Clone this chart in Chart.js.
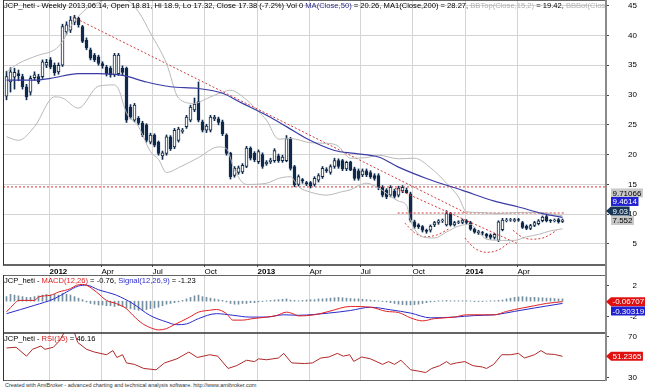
<!DOCTYPE html>
<html>
<head>
<meta charset="utf-8">
<script src="https://cdn.jsdelivr.net/npm/chart.js@4.4.0/dist/chart.umd.min.js"></script>
<style>
  body { margin: 0; background: #fff; width: 645px; height: 392px; overflow: hidden; position: relative; font-family: "Liberation Sans", Arial, sans-serif; }
  canvas { position: absolute; left: 0; }
  #main { top: 0; }
  #macd { top: 275px; }
  #rsi { top: 333px; }
  #foot { position: absolute; left: 5px; top: 382px; font-size: 5.5px; color: #333; white-space: nowrap; }
</style>
</head>
<body>
<canvas id="main" width="645" height="275"></canvas>
<canvas id="macd" width="645" height="58"></canvas>
<canvas id="rsi" width="645" height="48"></canvas>
<div id="foot">Created with AmiBroker - advanced charting and technical analysis software. http://www.amibroker.com</div>
<script>
// weekly bars, index 0 = late Oct 2011, last = mid Jun 2014
const opens = [29.8,32.2,33.0,33.6,33.1,31.4,30.5,32.9,33.1,33.1, 35.0,35.9,35.0,33.9,35.0,40.6,40.9,42.2,42.9,41.5,
  39.2,37.6,36.7,36.4,35.3,34.7,34.5,33.4,33.6,34.5, 34.5,28.0,25.8,26.1,25.3,25.0,22.1,23.3,22.1,19.8,
  20.2,23.0,21.3,22.4,23.9,24.7,25.8,27.5,28.9,25.5, 24.1,24.1,26.0,26.0,25.5,23.3,20.2,16.5,17.0,17.1,
  18.0,21.1,20.2,18.8,20.0,18.5,18.8,19.0,19.8,19.0, 19.0,22.7,18.0,15.0,15.8,15.3,15.3,15.0,15.7,16.3,
  17.5,17.0,18.0,19.0,19.0,17.6,18.8,17.6,17.3,16.6, 17.3,17.0,16.5,16.5,14.5,14.0,13.2,13.9,13.2,13.9,
  14.0,13.4,8.7,8.2,7.9,7.3,7.3,8.2,8.6,8.9, 8.2,10.1,8.2,8.6,8.6,8.9,8.6,7.5,7.1,6.9,
  6.6,6.5,6.1,5.6,7.4,8.9,9.0,8.9,9.1,8.6, 8.0,7.6,8.1,8.4,8.9,9.6,9.0,8.9,9.1,8.8];
const highs = [34.0,34.6,34.5,34.2,33.5,31.8,33.2,33.9,33.5,35.9, 36.0,36.3,35.4,35.4,41.9,42.3,43.2,43.4,43.1,41.7,
  39.6,37.9,37.0,36.7,35.6,35.0,34.8,37.0,37.0,34.9, 34.7,28.4,28.6,26.4,25.6,25.2,23.6,23.5,22.3,20.6,
  23.3,23.2,24.4,24.6,24.4,26.6,28.3,29.5,32.2,25.8, 25.1,26.6,26.6,26.3,25.8,23.5,20.4,18.0,18.1,18.5,
  21.4,21.3,20.5,20.8,20.3,19.0,19.4,21.0,20.1,19.9, 23.2,22.9,18.2,16.6,16.0,15.5,15.5,16.3,16.8,18.0,
  17.8,18.3,19.4,19.3,19.2,18.9,18.9,17.9,17.6,17.6, 17.6,17.3,16.8,16.8,14.8,14.3,14.8,14.2,14.7,14.8,
  14.4,13.7,9.0,8.4,8.1,7.5,8.2,8.8,9.1,9.2, 10.6,10.3,8.8,8.9,9.2,9.1,8.8,7.7,7.3,7.1,
  6.8,6.7,6.8,8.9,9.3,9.3,9.3,9.3,9.3,8.8, 8.2,8.3,8.8,9.1,9.7,9.8,9.1,9.2,9.3,9.2];
const lows = [29.2,30.5,31.0,32.4,31.0,29.2,30.0,32.5,31.9,32.8, 34.6,34.4,33.3,33.5,34.8,40.2,40.5,41.8,41.4,38.8,
  37.6,35.9,35.6,35.0,34.5,33.2,33.0,33.1,33.3,33.3, 25.4,26.0,25.5,25.0,23.0,22.1,21.8,21.3,19.9,19.2,
  19.9,20.7,21.0,22.1,23.6,24.4,25.5,27.2,25.5,23.8, 23.7,23.8,25.7,25.0,23.2,19.9,15.9,16.2,16.7,16.8,
  17.8,19.1,18.8,18.5,17.7,18.2,18.5,18.7,18.7,18.7, 18.8,17.4,14.6,14.7,15.2,14.8,14.4,14.7,15.4,16.0,
  17.0,16.7,17.7,17.7,17.3,17.3,17.3,15.7,15.7,16.3, 16.3,16.0,15.7,14.1,12.9,12.6,12.9,12.7,12.9,13.6,
  13.5,8.7,7.6,7.6,7.0,6.8,7.0,7.9,8.3,8.6, 8.0,8.0,8.0,8.4,8.4,8.4,7.3,6.8,6.6,6.5,
  6.0,5.8,5.8,5.4,7.2,8.7,8.8,8.7,8.8,7.6, 7.4,7.4,7.9,8.2,8.7,8.7,8.6,8.7,8.5,8.6];
const closes = [33.1,33.9,33.8,33.2,31.4,29.7,32.8,33.4,32.2,35.6, 35.5,34.7,33.7,35.0,41.5,41.8,42.6,43.0,41.8,39.0,
  37.9,36.2,35.9,35.3,34.9,33.6,33.4,36.7,36.7,33.8, 25.8,26.3,28.3,25.3,23.3,22.4,23.3,21.6,20.2,20.3,
  23.0,21.0,24.1,24.3,24.1,26.3,28.0,28.5,25.8,24.1, 24.8,26.3,26.3,25.4,23.5,20.2,16.3,17.7,17.8,18.2,
  21.1,19.4,19.1,20.5,18.0,18.7,19.1,20.7,19.0,19.6, 22.7,17.7,14.9,16.3,15.6,15.1,14.7,16.0,16.5,17.7,
  17.3,18.0,19.0,18.0,17.6,18.7,17.4,16.0,16.0,17.3, 16.6,16.3,16.0,14.4,13.2,12.9,14.5,13.0,14.4,14.5,
  13.6,9.0,7.9,7.9,7.3,7.1,8.0,8.6,8.9,9.0, 10.1,8.2,8.6,8.7,9.0,8.6,7.5,7.0,6.9,6.8,
  6.3,6.1,6.6,8.7,9.0,9.0,9.1,9.1,9.0,7.8, 7.6,8.1,8.6,8.9,9.5,8.9,8.9,9.0,8.7,9.03];

// overlays (bar index, value)
const maIdx = [0,7,11,18,23,29,35,41,48,54,59,65,70,75,82,87,93,98,105,114,122,128,134,139];
const maVal = [32.5,32.5,32.8,33.6,33.6,33.3,32.2,31.4,31.1,30.3,28.6,26.6,24.7,22.7,20.7,20.2,19.6,17.9,16.0,14.0,12.2,11.2,10.1,9.46];
const bbTopIdx = [0,3,8,12,14,16,20,23,26,30,33,36,40,43,47,50,54,56,60,63,65,68,71,76,80,83,85,86,90,93,98,102,106,108,110,113,115,118,123,128,133,139];
const bbTopVal = [33.9,35.3,36.7,37.6,39.0,41.5,44.5,45.5,46.5,46.0,44.0,40.4,35.3,29.5,28.6,29.4,30.5,30.8,29.2,27.2,25.8,22.6,22.7,22.0,21.9,21.4,19.8,19.4,19.5,19.9,19.3,19.4,17.8,16.6,15.2,12.9,10.4,10.3,10.1,10.3,10.3,9.71];
const bbBotIdx = [0,3,7,12,14,18,23,27,28,30,33,36,38,40,43,48,53,55,57,60,65,68,71,73,76,80,84,86,88,90,93,98,100,101,102,104,107,110,113,116,118,120,124,127,130,133,136,139];
const bbBotVal = [23.0,22.4,24.7,29.7,29.5,27.8,31.5,31.7,31.0,27.0,24.7,20.5,19.2,17.0,17.8,19.5,21.3,21.0,17.4,15.0,15.2,16.0,16.3,14.6,13.7,13.2,13.8,14.1,14.8,15.2,14.4,12.2,11.5,9.0,7.5,6.2,6.0,7.0,8.0,8.3,7.0,5.8,5.6,5.6,6.2,6.6,7.2,7.55];

// hand drawn study lines (bar index, price)
const trendA = [[16.6, 43.1], [115, 10.15]];
const trendB = [[97.1, 14.36], [127.6, 5.12]];
const levelHi = [[-0.875, 14.58], [149.625, 14.58]];
const levelLo = [[97.8, 10.2], [139.6, 10.2]];
const cup1 = [[99.6, 8.5], [102, 6.9], [104.5, 6.2], [107.5, 6.5], [110.8, 7.6]];
const cup2 = [[114.6, 6.0], [117, 4.3], [120.1, 3.6], [123, 4.0], [125.8, 5.3]];
const cup3 = [[126.6, 7.3], [128.8, 6.2], [131.3, 5.8], [134.5, 6.1], [137.6, 7.3]];

const macdIdx = [0,2,3,7,8,11,13,16,17.5,19,20,22.5,25,27.5,30,31.6,34,36.6,38,40,41.6,45.8,48,50.8,52.5,55,56.6,59,61.6,65,67.5,70,71.6,73,77,80.6,86,91,95,98,101,104,107,112,115,119,122,125,129,132,135,139];
const macdVal = [-1.4,-0.33,0.1,0.1,0.55,0.78,1.2,1.65,2.1,2.2,2.1,1.2,0.1,-0.33,-1.0,-1.86,-2.96,-3.62,-3.8,-3.62,-3.2,-2.1,-1.45,-1.2,-1.1,-1.65,-2.5,-2.5,-2.3,-2.1,-1.9,-1.45,-1.65,-1.95,-1.8,-1.35,-0.7,-0.8,-1.35,-1.5,-2.2,-2.6,-2.3,-2.1,-1.8,-1.8,-1.8,-1.35,-0.9,-0.6,-0.3,-0.07];
const sigIdx = [0,7,12,15,18,20,23,27.5,31.6,35.8,40,42.5,45,48,52.5,56.6,60.8,65,69.2,73,80.6,86,91,96,101,106,112,117,122,127,132,139];
const sigVal = [-1.65,-0.55,0.33,1.2,2.0,2.1,1.5,0.78,-0.33,-1.86,-2.74,-3.1,-3.0,-2.3,-1.65,-1.86,-2.1,-2.1,-1.8,-1.86,-1.57,-1.23,-0.8,-1.14,-1.57,-2.2,-2.1,-1.9,-1.8,-1.35,-0.9,-0.3];
const macdHist = [0.6,0.9,0.8,0.7,0.6,0.5,0.5,0.6,0.7,0.8, 0.9,0.8,0.9,0.8,1.0,0.9,0.8,0.6,0.4,0.2,
  -0.1,-0.3,-0.4,-0.5,-0.5,-0.6,-0.6,-0.7,-0.6,-0.7, -0.9,-1.0,-1.1,-1.2,-1.2,-1.1,-1.0,-0.9,-0.8,-0.6,
  -0.4,-0.3,-0.2,-0.1,0.1,0.3,0.5,0.7,0.8,0.6, 0.5,0.4,0.3,0.2,0.1,-0.1,-0.3,-0.4,-0.4,-0.3,
  -0.3,-0.2,-0.2,-0.1,-0.05,0.05,0.1,0.15,0.2,0.25, 0.3,0.15,0.1,0.05,0.1,0.15,0.2,0.2,0.3,0.3,
  0.35,0.4,0.45,0.5,0.45,0.4,0.35,0.3,0.3,0.25, 0.2,0.15,0.1,0.05,-0.05,-0.1,-0.2,-0.3,-0.4,-0.45,
  -0.5,-0.5,-0.45,-0.4,-0.3,-0.2,-0.1,-0.05,0.05,0.05, 0.1,0.05,0.05,0.05,0.05,0.05,0.02,-0.05,-0.05,-0.05,
  0.02,0.05,0.05,0.1,0.15,0.3,0.4,0.5,0.55,0.6, 0.55,0.5,0.5,0.45,0.45,0.4,0.4,0.35,0.3,0.3];

const rsiIdx = [0,2.4,5,6.5,8.6,9.6,11.7,13.2,15,16.5,17.8,20,22,25,26.6,27.6,29,30,32,34.3,37.4,39.5,42.6,45.6,47.7,50.8,52.8,55.4,57.5,60,62,63,65,68,69.3,71.3,74.5,76.5,78.6,80.6,82.7,84.2,85.8,86.8,88.8,91,94,95.5,97,98.6,100,101,103,104.8,106.3,108.3,110,111,112.5,114.6,116.6,119,120,121.8,123.8,126,128,129.5,132,133.6,135,137,139];
const rsiVal = [59.3,60,51.3,58,61.2,58,60,66,78,80,64.7,58,55.3,52.7,56.7,50,52.7,44.7,43.3,39.3,38,44.7,48.7,55.3,50,52.7,51.3,39.3,42,47.3,46,48.7,47.8,49.5,54,44.7,44.1,44.7,49.5,50.5,54,51.3,52.7,46.2,50.5,48.7,43.3,46,43.3,47.3,42,38,36.7,35.3,39.3,42,46,43.3,44.7,46,42,40.7,39.3,43.3,52.7,52.7,54,49.5,52.7,56.7,53.5,53,51.2];

const tickPos = [10.75, 23.75, 36.5, 49.5, 62.75, 75.75, 88.5, 101.5, 114.75, 127.75];
const tickLabels = ['2012','Apr','Jul','Oct','2013','Apr','Jul','Oct','2014','Apr'];
const priceTicks = [5,10,15,20,25,30,35,40,45];
const macdTicks = [-2, 2];
const rsiTicks = [30, 70];

const X_MIN = -0.875, X_MAX = 149.625;
const DARK = '#0f2a4a';
const GRID = '#d4d4d4';

Chart.defaults.font.family = '"Liberation Sans", Arial, sans-serif';
Chart.defaults.font.size = 8;
Chart.defaults.color = '#000';

const pts = (idx, val) => idx.map((x, i) => ({x: x, y: val[i]}));
const pairs = arr => arr.map(p => ({x: p[0], y: p[1]}));

function lineSet(data, color, width, dash, smooth) {
  return {type: 'line', data: data, borderColor: color, borderWidth: width, borderDash: dash || [],
    pointRadius: 0, fill: false, order: 0, cubicInterpolationMode: smooth ? 'monotone' : 'default', tension: smooth === 'arc' ? 0.45 : 0};
}

function xAxis(show) {
  return {
    type: 'linear', min: X_MIN, max: X_MAX, offset: false,
    afterBuildTicks: s => { s.ticks = tickPos.map(v => ({value: v})); },
    afterFit: s => { s.height = show ? 10 : 0; s.paddingLeft = 0; s.paddingRight = 0; },
    grid: {color: GRID, offset: false, drawTicks: show, tickLength: 2, tickColor: '#555'},
    border: {display: false},
    ticks: {display: show, align: 'start', padding: 0, maxRotation: 0, autoSkip: false, color: '#000',
      font: c => ({size: 8, weight: /^\d/.test(tickLabels[c.index] || '') ? 'bold' : 'normal'}),
      callback: (v, i) => tickLabels[i]}
  };
}

function yAxis(min, max, ticks, grid) {
  return {
    position: 'right', min: min, max: max,
    afterBuildTicks: s => { s.ticks = ticks.map(v => ({value: v})); },
    afterFit: s => { s.width = 32; s.paddingTop = 0; s.paddingBottom = 0; },
    grid: {color: grid ? GRID : 'rgba(0,0,0,0)', tickLength: 4, tickColor: '#444'},
    border: {display: false},
    ticks: {crossAlign: 'far', padding: 0, color: '#000', font: {size: 8}}
  };
}

// frame, title row and the value tags on the right edge
const deco = {
  id: 'deco',
  afterDraw(chart, args, opts) {
    const ctx = chart.ctx, a = chart.chartArea;
    ctx.save();
    ctx.beginPath();
    ctx.rect(a.left, a.top, a.right - a.left, a.bottom - a.top);
    ctx.clip();
    ctx.font = '7.6px "Liberation Sans", Arial, sans-serif';
    ctx.textBaseline = 'middle';
    ctx.textAlign = 'left';
    let x = a.left + 1;
    for (const seg of opts.title) {
      ctx.fillStyle = seg[1];
      ctx.fillText(seg[0], x, a.top + 5.5);
      x += ctx.measureText(seg[0]).width;
    }
    ctx.restore();

    ctx.save();
    ctx.strokeStyle = '#333';
    ctx.lineWidth = 1.5;
    ctx.beginPath();
    ctx.moveTo(a.left, a.top); ctx.lineTo(a.right, a.top);
    ctx.moveTo(a.left, a.bottom); ctx.lineTo(a.right, a.bottom);
    ctx.stroke();
    ctx.lineWidth = 1;
    ctx.beginPath();
    ctx.moveTo(a.left + 0.5, a.top); ctx.lineTo(a.left + 0.5, a.bottom);
    ctx.stroke();
    ctx.strokeStyle = '#8a8a8a';
    ctx.lineWidth = 2;
    ctx.beginPath();
    ctx.moveTo(a.right + 1, 0); ctx.lineTo(a.right + 1, chart.height);
    ctx.stroke();

    const ys = chart.scales.y;
    ctx.font = '8px "Liberation Sans", Arial, sans-serif';
    ctx.textBaseline = 'middle';
    for (const b of opts.boxes) {
      const yc = ys.getPixelForValue(b.value) + b.dy;
      const w = ctx.measureText(b.text).width + 3;
      const x0 = a.right + 6, h = 9;
      ctx.fillStyle = b.bg;
      ctx.beginPath();
      if (b.arrow) { ctx.moveTo(a.right + 1, yc); ctx.lineTo(x0, yc - h / 2); }
      else ctx.moveTo(x0, yc - h / 2);
      ctx.lineTo(x0 + w, yc - h / 2);
      ctx.lineTo(x0 + w, yc + h / 2);
      ctx.lineTo(x0, yc + h / 2);
      ctx.closePath();
      ctx.fill();
      ctx.fillStyle = b.fg;
      ctx.fillText(b.text, x0 + 1.5, yc + 0.5);
    }
    ctx.restore();
  }
};

const base = (title, boxes) => ({
  responsive: false, animation: false,
  layout: {padding: {left: 3, right: 8, top: 0, bottom: 0}},
  plugins: {legend: {display: false}, tooltip: {enabled: false}, deco: {title: title, boxes: boxes}}
});

// main price panel
const mainOpts = base([
  ['JCP_heti - Weekly 2013.06.14, Open 18.81, Hi 18.9, Lo 17.32, Close 17.38 (-7.2%) Vol 0 ', '#000'],
  ['MA(Close,50)', '#2c2c8c'], [' = 20.26, ', '#000'],
  ['MA1(Close,200)', '#000'], [' = 28.27, ', '#000'],
  ['BBTop(Close,15,2)', '#b0b0b0'], [' = 19.42, ', '#000'],
  ['BBBot(Close,15,2)', '#b0b0b0']
], [
  {text: '9.71066', value: 9.03, dy: -27, bg: '#c8c8c8', fg: '#000'},
  {text: '9.4614', value: 9.03, dy: -18.5, bg: '#2222d4', fg: '#fff'},
  {text: '9.03', value: 9.03, dy: -9, bg: '#163456', fg: '#fff', arrow: true},
  {text: '7.552', value: 9.03, dy: 0.5, bg: '#c8c8c8', fg: '#000'}
]);
mainOpts.scales = {x: xAxis(true), y: yAxis(1.47, 45.96, priceTicks, true)};

new Chart(document.getElementById('main'), {
  type: 'bar',
  data: {
    datasets: [
      lineSet(pts(maIdx, maVal), '#3b3ba6', 1.2, null, true),
      lineSet(pts(bbTopIdx, bbTopVal), '#b8b8b8', 1, null, true),
      lineSet(pts(bbBotIdx, bbBotVal), '#b8b8b8', 1, null, true),
      lineSet(pairs(trendA), '#d23a3a', 1, [2, 2]),
      lineSet(pairs(trendB), '#d23a3a', 1, [2, 2]),
      lineSet(pairs(levelHi), '#d23a3a', 1, [2, 2]),
      lineSet(pairs(levelLo), '#d23a3a', 1, [2, 2]),
      lineSet(pairs(cup1), '#d23a3a', 1, [2, 2], 'arc'),
      lineSet(pairs(cup2), '#d23a3a', 1, [2, 2], 'arc'),
      lineSet(pairs(cup3), '#d23a3a', 1, [2, 2], 'arc'),
      {type: 'bar', data: opens.map((o, i) => ({x: i, y: [o, closes[i]]})),
        backgroundColor: c => closes[c.dataIndex] >= opens[c.dataIndex] ? '#ffffff' : DARK,
        borderColor: DARK, borderWidth: 1, borderSkipped: false, barThickness: 3, grouped: false, order: 1},
      {type: 'bar', data: lows.map((l, i) => ({x: i, y: [l, highs[i]]})),
        backgroundColor: DARK, barThickness: 1, grouped: false, order: 2}
    ]
  },
  options: mainOpts,
  plugins: [deco]
});

// MACD panel
const macdOpts = base([
  ['JCP_heti - ', '#000'], ['MACD(12,26)', '#e02020'], [' = -0.76, ', '#000'],
  ['Signal(12,26,9)', '#2a2acc'], [' = -1.23', '#000']
], [
  {text: '-0.06707', value: -0.06707, dy: 0, bg: '#e01010', fg: '#fff', arrow: true},
  {text: '-0.30319', value: -0.30319, dy: 7.5, bg: '#2020d0', fg: '#fff'}
]);
macdOpts.scales = {x: xAxis(false), y: yAxis(-4.2, 3.45, macdTicks, false)};

new Chart(document.getElementById('macd'), {
  type: 'bar',
  data: {
    datasets: [
      lineSet(pts(macdIdx, macdVal), '#e02020', 1, null, true),
      lineSet(pts(sigIdx, sigVal), '#2a2acc', 1, null, true),
      {type: 'bar', data: macdHist.map((v, i) => ({x: i, y: v})),
        backgroundColor: '#7590a0', barThickness: 1, grouped: false, order: 2}
    ]
  },
  options: macdOpts,
  plugins: [deco]
});

// RSI panel
const rsiOpts = base([
  ['JCP_heti - ', '#000'], ['RSI(15)', '#d02020'], [' = 46.16', '#000']
], [
  {text: '51.2365', value: 51.2365, dy: 0, bg: '#e01010', fg: '#fff', arrow: true}
]);
rsiOpts.scales = {x: xAxis(false), y: yAxis(27.07, 73.9, rsiTicks, false)};

new Chart(document.getElementById('rsi'), {
  type: 'bar',
  data: {
    datasets: [
      lineSet(pts(rsiIdx, rsiVal), '#b02828', 1, null, false)
    ]
  },
  options: rsiOpts,
  plugins: [deco]
});
</script>
</body>
</html>
